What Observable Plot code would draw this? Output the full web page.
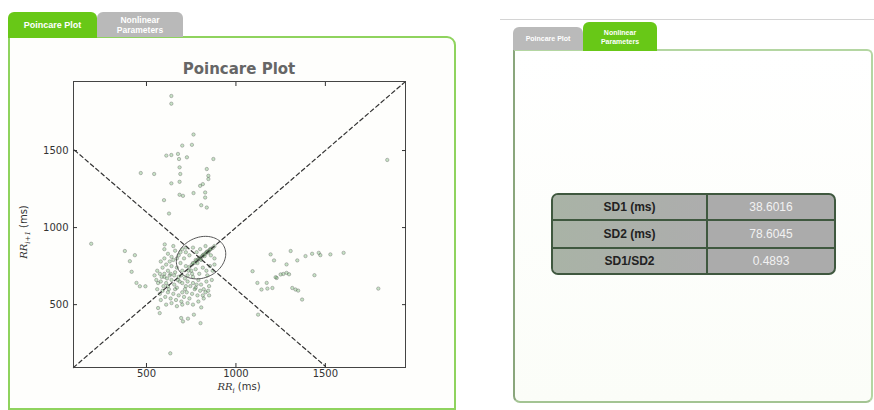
<!DOCTYPE html>
<html><head><meta charset="utf-8">
<script src="https://cdn.jsdelivr.net/npm/d3@7"></script>
<script src="https://cdn.jsdelivr.net/npm/@observablehq/plot@0.6"></script>
<style>
html,body{margin:0;padding:0;}
body{width:874px;height:410px;position:relative;overflow:hidden;background:#fff;font-family:"Liberation Sans",Arial,sans-serif;}
.abs{position:absolute;box-sizing:border-box;}
.tab{display:flex;align-items:center;justify-content:center;text-align:center;color:#fff;font-weight:bold;border-radius:6px 6px 0 0;z-index:3;}
#panelL{left:8px;top:36px;width:448px;height:374px;border:2.5px solid #8fd35e;border-radius:0 9px 0 0;background:#fefefc;}
#panelR{left:513px;top:49px;width:360px;height:354px;border:2px solid #b4d6a2;border-left-color:#8aa67c;border-bottom-color:#a3c493;border-radius:0 6px 7px 7px;background:linear-gradient(#ffffff,#fbfdf8);}
#title{left:73px;top:60px;width:332px;text-align:center;font-family:"DejaVu Sans",sans-serif;font-weight:bold;font-size:15px;color:#666;}
.axlab{font-family:"DejaVu Sans",sans-serif;font-size:10px;line-height:12px;color:#333;white-space:nowrap;}
.axlab i{font-family:"DejaVu Serif",serif;}
#tbl{left:551px;top:193px;width:285px;height:82px;border:2px solid #3f583f;border-radius:7px;overflow:hidden;background:#ababab;}
#tbl table{width:100%;height:100%;border-collapse:collapse;}
#tbl td{border:2px solid #3f583f;text-align:center;font-size:12px;padding:0;}
#tbl td.k{color:#222;font-weight:bold;width:153px;background:linear-gradient(90deg,#a9b3a6,#adadad);}
#tbl td.v{color:#f2f2f2;}
#tbl tr:first-child td{border-top:none;}
#tbl tr:last-child td{border-bottom:none;}
#tbl td:first-child{border-left:none;}
#tbl td:last-child{border-right:none;}
</style></head><body>
<div class="abs" id="panelL"></div>
<div class="abs tab" style="left:8px;top:12px;width:89px;height:26px;background:#68c817;font-size:9px;">Poincare Plot</div>
<div class="abs tab" style="left:97px;top:12px;width:86px;height:25px;background:#b9b9b9;font-size:8.5px;line-height:10px;">Nonlinear<br>Parameters</div>
<div class="abs" id="title">Poincare Plot</div>
<div class="abs" id="chart" style="left:10px;top:55px;"></div>
<div class="abs axlab" style="left:73px;top:381px;width:332px;text-align:center;"><i>RR<sub style="font-size:7px">i</sub></i> (ms)</div>
<div class="abs axlab" style="left:26px;top:232px;transform:translate(-50%,-50%) rotate(-90deg);"><i>RR<sub style="font-size:7px">i+1</sub></i> (ms)</div>

<div class="abs" style="left:500px;top:19px;width:374px;height:1px;background:#d4d4d4;"></div>
<div class="abs" id="panelR"></div>
<div class="abs tab" style="left:513px;top:27px;width:70px;height:23px;background:#bababa;font-size:7px;">Poincare Plot</div>
<div class="abs tab" style="left:583px;top:22px;width:74px;height:29px;background:#68c817;font-size:7px;line-height:9px;">Nonlinear<br>Parameters</div>
<div class="abs" id="tbl"></div>

<script>
// RR intervals (ms): RR_i and RR_{i+1}
const rrI = [
 639,639,763,700,754,611,639,676,682,726,874,685,689,837,846,846,468,543,639,685,800,815,763,685,704,828,828,598,806,837,626,1846,
 191,602,379,435,407,417,444,463,494,565,574,694,732,704,765,802,806,633,
 1093,1120,1143,1172,1176,1204,1194,1213,1228,1250,1265,1283,1283,1306,1343,1315,1333,1348,1370,1389,1426,1439,1463,1472,1528,1602,1796,1124,1222,1297,
 740,755,770,780,790,800,810,820,830,840,850,860,870,880,760,775,795,815,835,855,845,825,805,785,
 560,575,590,600,610,620,630,640,650,660,670,680,690,700,710,720,730,740,750,760,
 580,595,610,625,640,655,670,685,700,715,730,745,760,775,790,805,820,835,850,865,
 560,575,590,605,620,635,650,665,680,695,710,725,740,755,770,785,800,815,830,845,
 600,620,640,660,680,700,720,650,600,580,630,670,690,720,760,780,800,830,860,880,
 545,555,565,585,600,615,635,655,675,695,715,735,755,775,795,815,835,855,870,880,
 610,640,670,700,730,760,790,820,850,580,660,720,780,840,700,620
];
const rrNext = [
 1854,1804,1604,1532,1537,1467,1471,1478,1445,1456,1445,1391,1348,1380,1336,1315,1354,1348,1287,1297,1271,1282,1224,1213,1206,1228,1195,1178,1145,1130,1091,1439,
 895,891,848,821,782,713,641,619,619,478,445,413,409,391,435,380,482,184,
 717,641,598,641,604,608,826,787,673,696,699,706,761,848,787,608,598,591,533,815,830,691,836,821,826,836,604,435,678,697,
 745,760,772,785,795,800,812,825,832,845,850,862,868,880,770,790,805,820,840,858,838,815,790,770,
 720,700,740,680,760,720,690,750,790,710,740,680,770,720,800,750,690,820,720,680,
 650,620,640,600,660,630,610,650,640,600,650,620,640,610,660,630,600,650,620,660,
 600,570,590,550,580,540,570,530,560,520,550,580,540,570,600,560,590,560,580,590,
 800,830,810,850,820,860,840,880,860,780,780,800,840,870,870,840,860,880,820,800,
 690,660,640,680,700,670,700,690,660,690,670,720,700,730,700,740,720,750,720,760,
 500,510,490,500,510,500,520,540,560,530,600,620,630,690,580,620
];
const points = rrI.map((x, i) => ({x, y: rrNext[i]}));

const axisDomain = [92, 1948];
const xTicks = [500, 1000, 1500];
const yTicks = [500, 1000, 1500];

// identity line and its perpendicular through the centre
const identityLine = [92, 1948];
const perpX = [98, 1500];
const perpSum = 1600;

// SD ellipse (data units): centre, semi-axes along/across identity line
const ellipseCentre = [805, 805];
const ellipseAxes = [150, 125];
const ellipseAngle = 45;

// nonlinear parameters table
const paramLabels = ["SD1 (ms)", "SD2 (ms)", "SD1/SD2"];
const paramValues = ["38.6016", "78.6045", "0.4893"];

const th = ellipseAngle * Math.PI / 180;
const ellipse = d3.range(0, 361, 4).map(t => {
  const r = t * Math.PI / 180;
  const u = ellipseAxes[0] * Math.cos(r), v = ellipseAxes[1] * Math.sin(r);
  return {x: ellipseCentre[0] + u * Math.cos(th) - v * Math.sin(th),
          y: ellipseCentre[1] + u * Math.sin(th) + v * Math.cos(th)};
});

const chart = Plot.plot({
  width: 440, height: 340,
  marginLeft: 63, marginRight: 45, marginTop: 26, marginBottom: 28,
  x: {domain: axisDomain},
  y: {domain: axisDomain},
  style: {fontFamily: "DejaVu Sans, sans-serif", fontSize: "10px", color: "#333", background: "transparent"},
  marks: [
    Plot.dot(points, {x: "x", y: "y", r: 1.7, fill: "#3a9a3a", fillOpacity: 0.28, stroke: "#555", strokeOpacity: 0.45, strokeWidth: 0.8}),
    Plot.line(identityLine.map(v => ({x: v, y: v})), {x: "x", y: "y", stroke: "#333", strokeWidth: 1.2, strokeDasharray: "4,3"}),
    Plot.line(perpX.map(v => ({x: v, y: perpSum - v})), {x: "x", y: "y", stroke: "#333", strokeWidth: 1.2, strokeDasharray: "4,3"}),
    Plot.line(ellipse, {x: "x", y: "y", stroke: "#555", strokeWidth: 1}),
    Plot.frame({stroke: "#444", strokeWidth: 1}),
    Plot.axisX({ticks: xTicks, tickSize: -4, tickPadding: 6, label: null, tickFormat: d => String(d)}),
    Plot.axisX({anchor: "top", ticks: xTicks, tickSize: -4, label: null, tickFormat: () => ""}),
    Plot.axisY({ticks: yTicks, tickSize: -4, tickPadding: 9, label: null, tickFormat: d => String(d)}),
    Plot.axisY({anchor: "right", ticks: yTicks, tickSize: -4, label: null, tickFormat: () => ""})
  ]
});
document.getElementById("chart").appendChild(chart);

const tbl = document.createElement("table");
paramLabels.forEach((lab, i) => {
  const tr = document.createElement("tr");
  const a = document.createElement("td"); a.className = "k"; a.textContent = lab;
  const b = document.createElement("td"); b.className = "v"; b.textContent = paramValues[i];
  tr.appendChild(a); tr.appendChild(b); tbl.appendChild(tr);
});
document.getElementById("tbl").appendChild(tbl);
</script>
</body></html>
